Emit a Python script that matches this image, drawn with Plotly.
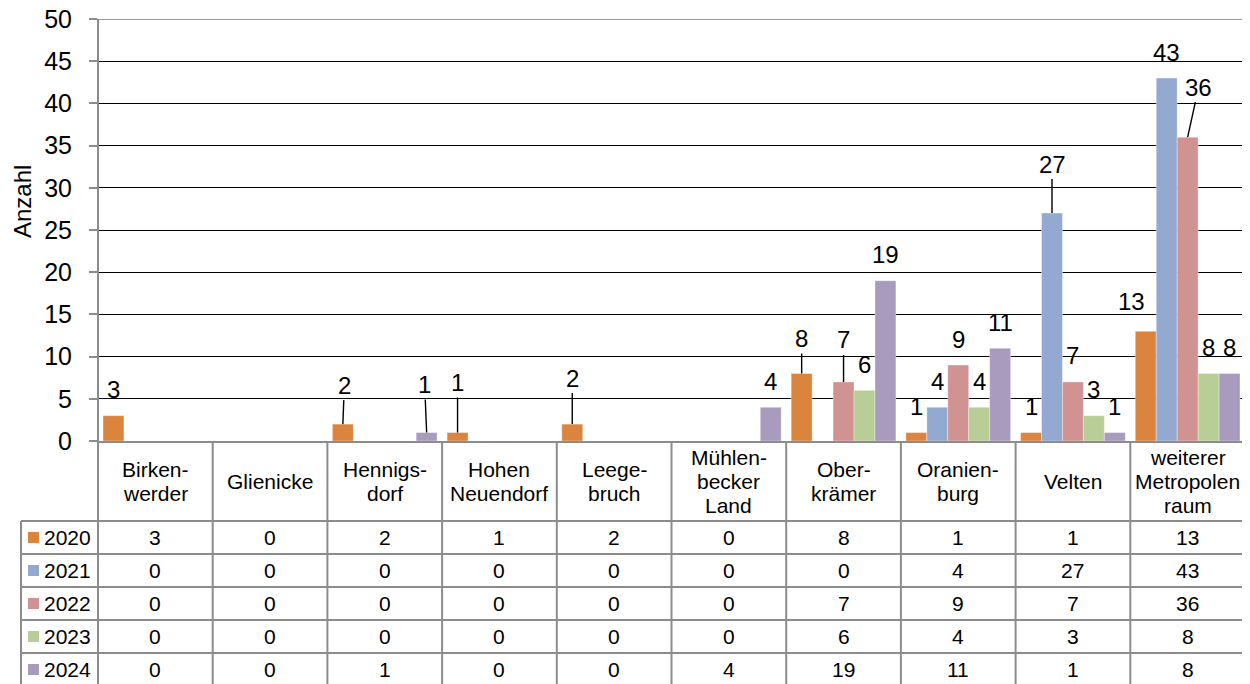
import plotly.graph_objects as go

# ---------------- data ----------------
categories = ["Birken-\nwerder", "Glienicke", "Hennigs-\ndorf", "Hohen\nNeuendorf",
              "Leege-\nbruch", "Mühlen-\nbecker\nLand", "Ober-\nkrämer", "Oranien-\nburg",
              "Velten", "weiterer\nMetropolen\nraum"]
years = ["2020", "2021", "2022", "2023", "2024"]
v2020 = [3, 0, 2, 1, 2, 0, 8, 1, 1, 13]
v2021 = [0, 0, 0, 0, 0, 0, 0, 4, 27, 43]
v2022 = [0, 0, 0, 0, 0, 0, 7, 9, 7, 36]
v2023 = [0, 0, 0, 0, 0, 0, 6, 4, 3, 8]
v2024 = [0, 0, 1, 0, 0, 4, 19, 11, 1, 8]
series = [v2020, v2021, v2022, v2023, v2024]
colors = ["#DB843D", "#93A9CF", "#D09392", "#B9CD96", "#A99BBD"]
y_ticks = [0, 5, 10, 15, 20, 25, 30, 35, 40, 45, 50]

# ---------------- geometry (reference pixel coords; page body has 8px margin) ----------------
OFF = 8
W, H = 1250 - OFF, 684 - OFF
PLOT_L, PLOT_R, PLOT_T, PLOT_B = 98, 1245, 19, 441
ML = PLOT_L - OFF
MT = PLOT_T - OFF
MR = W - (PLOT_R - OFF)
MB = H - (PLOT_B - OFF)
PW = PLOT_R - PLOT_L
PH = PLOT_B - PLOT_T
BARGAP = 0.087
n = len(categories)
FONT = "Liberation Sans, Arial, sans-serif"


def py(p):  # reference pixel y -> paper y
    return (PLOT_B - p) / PH


def px(p):  # reference pixel x -> paper x
    return (p - PLOT_L) / PW


fig = go.Figure()
xs = list(range(n))
for yr, vals, col in zip(years, series, colors):
    fig.add_trace(go.Bar(x=xs, y=vals, name=yr,
                         marker=dict(color=col, line=dict(color="rgba(255,255,255,0.6)", width=0.6)),
                         showlegend=False))

# ---------------- data labels ----------------
bw = (1 - BARGAP) / len(series)
# (series index, category index): (dx px, label centre above bar top px, leader line)
special = {
    (0, 2): (1.5, 39, True),
    (4, 2): (-2, 48, True),
    (0, 3): (0, 50, True),
    (0, 4): (0, 46, True),
    (0, 6): (0, 35, True),
    (2, 6): (0, 42, True),
    (1, 8): (0, 49, True),
    (2, 9): (11, 50, True),
    (0, 9): (-14.5, 30, False),
}
annotations = []
for si, vals in enumerate(series):
    for ci, v in enumerate(vals):
        if v == 0:
            continue
        xc = ci + (si - (len(series) - 1) / 2) * bw
        dx, dy, leader = special.get((si, ci), (0, 26, False))
        if leader:
            annotations.append(dict(x=xc, y=v, xref="x", yref="y", text=str(v), showarrow=True,
                                    ax=dx, ay=-dy, arrowhead=0, arrowwidth=1.4, arrowcolor="#000000",
                                    standoff=0, startstandoff=0,
                                    font=dict(family=FONT, size=24, color="#000000")))
        else:
            annotations.append(dict(x=xc, y=v, xref="x", yref="y", text=str(v), showarrow=False,
                                    xshift=dx, yshift=dy, yanchor="middle",
                                    font=dict(family=FONT, size=24, color="#000000")))

# y-axis title
annotations.append(dict(x=px(22), y=py(202), xref="paper", yref="paper", text="Anzahl", textangle=-90,
                        xanchor="center", yanchor="middle",
                        showarrow=False, font=dict(family=FONT, size=24, color="#000000")))

# ---------------- data table ----------------
HEADER_TOP, HEADER_BOT = 441, 521
ROW_H = 33
row_tops = [HEADER_BOT + i * ROW_H for i in range(len(years) + 1)]
TABLE_BOTTOM = row_tops[-1]
LEG_LEFT = 21
LINE_COL = "#8C8C8C"
shapes = []
# top gridline (at the plot edge)
shapes.append(dict(type="line", xref="paper", yref="y", x0=0, x1=1, y0=y_ticks[-1], y1=y_ticks[-1],
                   line=dict(color="#777777", width=1.5)))
for k in range(n + 1):
    shapes.append(dict(type="line", xref="x", yref="paper", x0=k - 0.5, x1=k - 0.5,
                       y0=py(HEADER_TOP), y1=py(TABLE_BOTTOM + 5), line=dict(color=LINE_COL, width=2)))
shapes.append(dict(type="line", xref="paper", yref="paper", x0=0, x1=0, y0=1, y1=py(TABLE_BOTTOM + 5),
                   line=dict(color=LINE_COL, width=2)))
shapes.append(dict(type="line", xref="paper", yref="paper", x0=px(LEG_LEFT), x1=px(LEG_LEFT),
                   y0=py(HEADER_BOT), y1=py(TABLE_BOTTOM + 5), line=dict(color=LINE_COL, width=2)))
for yt in row_tops:
    shapes.append(dict(type="line", xref="paper", yref="paper", x0=px(LEG_LEFT), x1=1,
                       y0=py(yt), y1=py(yt), line=dict(color=LINE_COL, width=2)))

LINE_SP = 24
hc = (HEADER_TOP + HEADER_BOT) / 2
for ci, cat in enumerate(categories):
    lines = cat.split("\n")
    for li, ln in enumerate(lines):
        yl = hc + (li - (len(lines) - 1) / 2) * LINE_SP
        annotations.append(dict(x=ci, y=py(yl), xref="x", yref="paper", text=ln, showarrow=False,
                                yanchor="middle", font=dict(family=FONT, size=21, color="#000000")))

for si, (yr, vals, col) in enumerate(zip(years, series, colors)):
    yc = row_tops[si] + ROW_H / 2
    shapes.append(dict(type="rect", xref="paper", yref="paper", x0=px(28), x1=px(39),
                       y0=py(yc + 5.5), y1=py(yc - 5.5), fillcolor=col, line=dict(width=0)))
    annotations.append(dict(x=px(42), y=py(yc), xref="paper", yref="paper", text=yr, showarrow=False,
                            xanchor="left", yanchor="middle", font=dict(family=FONT, size=21, color="#000000")))
    for ci, v in enumerate(vals):
        annotations.append(dict(x=ci, y=py(yc), xref="x", yref="paper", text=str(v), showarrow=False,
                                yanchor="middle", font=dict(family=FONT, size=21, color="#000000")))

fig.update_layout(
    width=W, height=H,
    margin=dict(l=ML, r=MR, t=MT, b=MB, pad=0, autoexpand=False),
    barmode="group", bargap=BARGAP, bargroupgap=0,
    plot_bgcolor="#FFFFFF", paper_bgcolor="#FFFFFF",
    font=dict(family=FONT, color="#000000"),
    xaxis=dict(range=[-0.5, n - 0.5], showticklabels=False, showgrid=False, zeroline=False,
               showline=True, linecolor=LINE_COL, linewidth=2, ticks="", fixedrange=True, automargin=False),
    yaxis=dict(range=[0, 50], tickvals=y_ticks, showgrid=True, gridcolor="#000000", gridwidth=1,
               zeroline=False, showline=False, ticks="outside", ticklen=8, tickcolor=LINE_COL, tickwidth=2,
               tickfont=dict(family=FONT, size=25, color="#000000"), ticklabelstandoff=12,
               ticklabeloverflow="allow", automargin=False),
    annotations=annotations,
    shapes=shapes,
)

fig.write_html("out.html")
